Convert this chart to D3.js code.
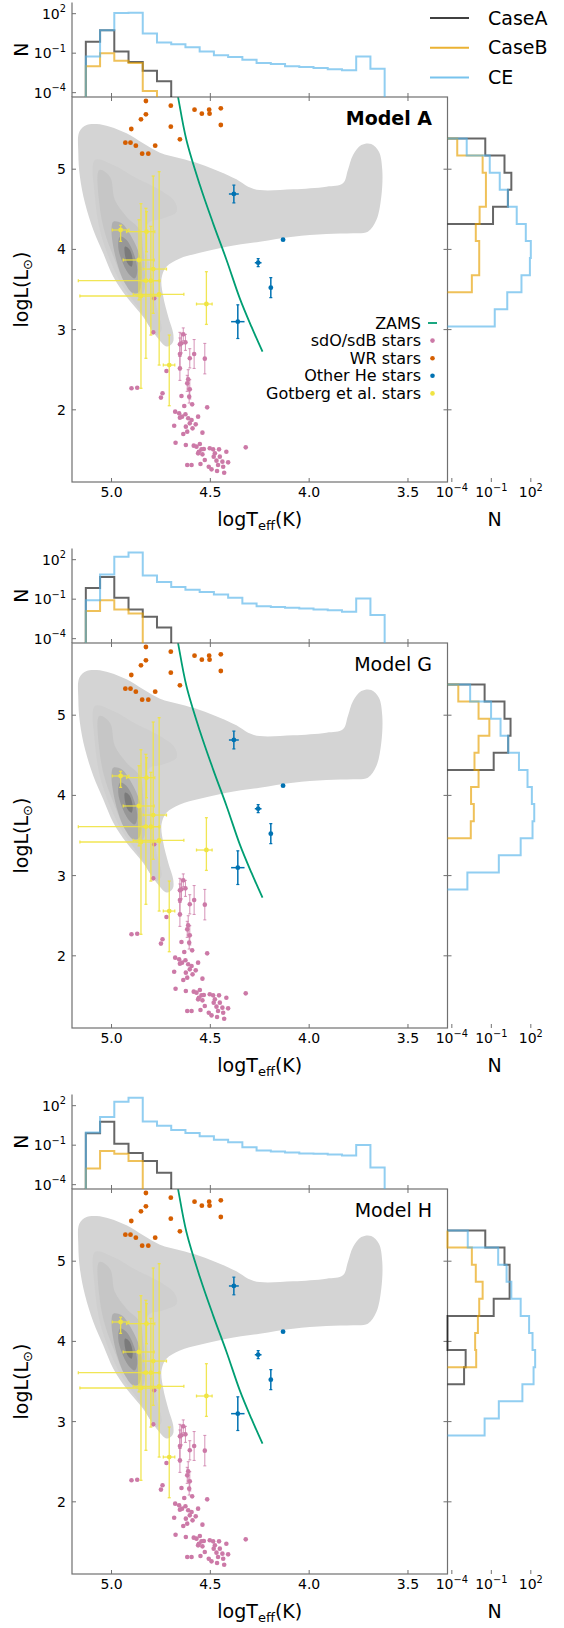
<!DOCTYPE html>
<html>
<head>
<meta charset="utf-8">
<script src="https://cdn.jsdelivr.net/npm/d3@7"></script>
<style>
  body { margin: 0; background: #fff; }
  text { font-family: 'DejaVu Sans', sans-serif; fill: #000; }
</style>
</head>
<body>
<script>
// ---------- data ----------
const modelNames = ['Model A', 'Model G', 'Model H'];
const caseNames = ['CaseA', 'CaseB', 'CE'];

// logTeff bin edges of the top histograms
const tEdges = [5.13, 5.058, 4.986, 4.914, 4.842, 4.77, 4.698, 4.626, 4.554, 4.482, 4.41,
  4.338, 4.266, 4.194, 4.122, 4.05, 3.978, 3.906, 3.834, 3.762, 3.69, 3.618];
// logL bin edges of the right histograms
const lEdges = [5.383, 5.17, 4.957, 4.744, 4.531, 4.318, 4.105, 3.892, 3.679, 3.466, 3.253, 3.04, 2.827];

// log10(N) per bin, null = empty
const topCaseA = [
  [-0.13, 0.75, -0.88, -1.68, -2.33, -3.13],
  [-0.15, 0.68, -0.9, -1.78, -2.33, -3.15],
  [-0.1, 0.78, -0.9, -1.6, -2.2, -3.1]
];
const topCaseB = [
  [-2.0, -1.0, -1.58, -1.75, -3.88],
  [-1.9, -1.08, -1.78, -2.08],
  [-2.78, -1.45, -1.65, -2.2]
];
const topCE = [
  [-1.25, 0.75, 2.05, 2.08, 0.5, -0.18, -0.33, -0.55, -0.88, -1.15, -1.3, -1.5, -1.75, -1.83, -2.0, -2.05, -2.13, -2.23, -2.3, -1.25, -2.18],
  [-1.08, 0.88, 2.23, 2.55, 0.8, 0.3, -0.08, -0.28, -0.45, -0.65, -0.9, -1.33, -1.53, -1.6, -1.65, -1.7, -1.78, -1.85, -1.95, -0.95, -2.2],
  [-0.03, 1.15, 2.3, 2.6, 0.8, 0.48, 0.15, -0.08, -0.33, -0.58, -0.78, -1.15, -1.4, -1.48, -1.55, -1.63, -1.65, -1.7, -1.78, -0.98, -2.7]
];
const rightCaseA = [
  [-1.46, 0.0, 0.52, 0.26, -0.87],
  [-1.51, 0.0, 0.46, 0.28, -0.82],
  [-1.46, 0.0, 0.39, 0.39, -0.82, null, null, -2.95, -3.07]
];
const rightCaseB = [
  [-3.59, -1.66, -1.41, -1.41, -1.89, -2.18, -1.92, -1.92, -2.48],
  [-3.51, -1.97, -1.15, -1.97, -2.28, -1.97, -2.54, -2.33, -2.56],
  [null, -2.48, -2.18, -1.66, -1.92, -2.02, -2.23, -2.15]
];
const rightCE = [
  [-2.87, -1.12, -0.36, 0.26, 0.93, 1.62, 2.0, 1.93, 1.29, 0.21, -0.74],
  [-2.61, -1.02, -0.3, 0.28, 1.1, 1.75, 2.08, 2.26, 2.13, 1.23, -0.43, -2.82],
  [-2.79, -0.48, 0.16, 0.52, 1.23, 1.87, 2.13, 2.33, 2.21, 1.36, -0.43, -1.51]
];

// population density contours, [logTeff, logL]
const contour1 = [[5.163,5.468],[5.126,5.551],[5.075,5.563],[5.008,5.53],[4.924,5.447],[4.84,5.322],[4.755,5.206],
  [4.654,5.135],[4.553,5.065],[4.452,4.969],[4.368,4.873],[4.309,4.782],[4.25,4.74],[4.082,4.749],[3.913,4.782],
  [3.829,4.824],[3.804,4.99],[3.778,5.177],[3.736,5.301],[3.686,5.314],[3.647,5.218],[3.63,4.99],[3.635,4.657],
  [3.66,4.366],[3.703,4.221],[3.778,4.2],[3.913,4.192],[4.082,4.158],[4.25,4.096],[4.418,4.034],[4.553,3.959],
  [4.654,3.888],[4.722,3.784],[4.747,3.639],[4.738,3.41],[4.713,3.161],[4.688,2.953],[4.69,2.84],[4.72,2.79],
  [4.772,2.912],[4.84,3.161],[4.924,3.41],[4.991,3.66],[5.042,3.951],[5.092,4.242],[5.134,4.574],[5.16,4.907],[5.168,5.198]];
const contour2 = [[5.084,5.114],[4.991,5.052],[4.873,4.886],[4.755,4.74],[4.68,4.595],[4.671,4.47],[4.738,4.387],
  [4.814,4.325],[4.823,4.034],[4.797,3.66],[4.772,3.286],[4.747,2.995],[4.772,2.932],[4.856,3.244],[4.941,3.535],
  [5.008,3.868],[5.059,4.242],[5.084,4.657]];
const contour3 = [[5.062,4.99],[5.008,4.907],[4.983,4.616],[4.924,4.408],[4.856,4.242],[4.84,3.992],[4.831,3.66],
  [4.84,3.452],[4.873,3.41],[4.932,3.577],[4.983,3.868],[5.033,4.2],[5.062,4.574]];
const contour4 = [[4.991,4.346],[4.949,4.325],[4.899,4.158],[4.856,3.909],[4.848,3.66],[4.86,3.473],[4.89,3.452],
  [4.932,3.577],[4.966,3.784],[4.991,4.034],[5.0,4.242]];
const contour5 = [[4.957,4.158],[4.924,4.117],[4.882,3.909],[4.87,3.722],[4.882,3.639],[4.915,3.701],[4.949,3.868],[4.966,4.034]];
const contour6 = [[4.932,4.034],[4.91,4.001],[4.893,3.868],[4.899,3.784],[4.919,3.826],[4.932,3.93]];
const contourFills = ['#d4d4d4', '#cfcfcf', '#c6c6c6', '#afafaf', '#979797', '#7b7b7b'];

const zamsT = [4.671, 4.663, 4.621, 4.553, 4.486, 4.418, 4.351, 4.292, 4.236];
const zamsL = [6.0, 5.896, 5.364, 4.803, 4.325, 3.868, 3.39, 3.036, 2.724];

const sdT = [4.784,4.789,4.899,4.87,4.75,4.742,4.722,4.637,4.646,4.626,4.654,4.654,4.604,4.582,4.528,4.654,4.612,4.604,
  4.617,4.646,4.607,4.592,4.632,4.516,4.678,4.658,4.643,4.626,4.612,4.595,4.654,4.562,4.574,4.604,4.624,4.59,4.617,
  4.637,4.683,4.54,4.676,4.624,4.584,4.553,4.545,4.562,4.54,4.503,4.486,4.456,4.477,4.452,4.419,4.55,4.528,4.469,
  4.439,4.41,4.435,4.494,4.508,4.466,4.43,4.617,4.595,4.321,4.533,4.57,4.558,4.483,4.461];
const sdL = [3.39,2.966,2.268,2.276,2.152,2.206,2.484,2.941,2.829,2.841,2.816,2.696,2.642,2.696,2.638,2.517,2.38,2.255,
  2.33,2.172,2.164,2.068,2.048,2.031,1.977,1.956,1.915,1.944,1.894,1.873,1.902,1.915,1.819,1.831,1.79,1.769,1.728,
  1.698,1.802,1.715,1.59,1.561,1.553,1.574,1.507,1.457,1.445,1.52,1.507,1.507,1.457,1.416,1.478,1.324,1.374,1.366,
  1.354,1.345,1.291,1.258,1.291,1.237,1.216,1.312,1.312,1.532,1.511,1.541,1.478,1.416,1.312];
const sdLerr = [0,0,0,0,0,0,0,0.08,0.12,0.1,0.15,0.2,0.12,0.18,0.19,0.15,0.12,0.12,0.1,0,0.08];

const wrT = [4.826,4.7,4.826,4.851,4.9,4.93,4.904,4.877,4.845,4.814,4.779,4.7,4.654,4.58,4.543,4.506,4.504,4.447,4.447];
const wrL = [5.85,5.792,5.684,5.622,5.501,5.331,5.331,5.293,5.193,5.193,5.293,5.53,5.372,5.742,5.692,5.742,5.692,5.759,5.551];

const heT = [4.381, 4.132, 4.258, 4.194, 4.361];
const heL = [4.691, 4.121, 3.834, 3.523, 3.099];
const heTerr = [0.025, 0, 0.017, 0, 0.034];
const heLerr = [0.11, 0, 0.05, 0.125, 0.21];

const gotT = [4.954, 4.823, 4.861, 4.789, 4.826, 4.801, 4.851, 4.759, 4.52, 4.708];
const gotL = [4.242, 4.221, 3.868, 3.755, 3.61, 3.61, 3.419, 3.44, 3.319, 2.558];
const gotTlo = [4.912, 4.781, 4.784, 4.722, 4.755, 4.76, 4.755, 4.634, 4.491, 4.68];
const gotThi = [4.996, 4.924, 4.941, 4.84, 5.168, 4.84, 5.16, 4.89, 4.57, 4.738];
const gotLlo = [4.1, 3.97, 3.37, 3.203, 2.642, 2.932, 2.268, 2.558, 3.065, 2.051];
const gotLhi = [4.3, 4.47, 4.37, 4.915, 4.512, 4.287, 4.57, 4.969, 3.722, 2.932];

const xTicks = [5.0, 4.5, 4.0, 3.5];
const yTicks = [2, 3, 4, 5];
const nTicks = [-4, -1, 2];
const legendLabels = ['ZAMS', 'sdO/sdB stars', 'WR stars', 'Other He stars', 'Gotberg et al. stars'];

// ---------- layout ----------
const width = 564, height = 1628, panelStep = 546;
const M = { left: 72, right: 447.5, top: 97, bottom: 482 };
const histFar = 94.5;
const spineColor = '#707070';
const caseColors = ['#000000', '#E69F00', '#56B4E9'];
const caseOpacity = [0.6, 0.65, 0.65];
const colZams = '#009E73', colSd = '#CC79A7', colWR = '#D55E00', colHe = '#0072B2', colGot = '#F0E442';

const xScale = d3.scaleLinear().domain([5.2, 3.3]).range([M.left, M.right]);
const yScale = d3.scaleLinear().domain([1.1, 5.9]).range([M.bottom, M.top]);
const nTopScale = d3.scaleLog().domain([10 ** -4.33, 10 ** 2.85]).range([M.top, M.top - histFar]);
const nRightScale = d3.scaleLog().domain([10 ** -4.33, 10 ** 2.85]).range([M.right, M.right + histFar]);

const svg = d3.select('body').append('svg').attr('width', width).attr('height', height)
  .style('background', '#fff');

function sup(sel, base, exp, size) {
  sel.text(base);
  sel.append('tspan').attr('dy', -size * 0.45).attr('font-size', size * 0.7).text(exp);
}

function topPath(vals) {
  const base = M.top;
  const pts = [[xScale(tEdges[0]), base]];
  vals.forEach((v, i) => {
    const yy = v == null ? base : nTopScale(10 ** v);
    pts.push([xScale(tEdges[i]), yy], [xScale(tEdges[i + 1]), yy]);
  });
  pts.push([xScale(tEdges[vals.length]), base]);
  return d3.line()(pts);
}

function rightPath(vals) {
  const base = M.right;
  const pts = [[base, yScale(lEdges[0])]];
  vals.forEach((v, i) => {
    const xx = v == null ? base : nRightScale(10 ** v);
    pts.push([xx, yScale(lEdges[i])], [xx, yScale(lEdges[i + 1])]);
  });
  pts.push([base, yScale(lEdges[vals.length])]);
  return d3.line()(pts);
}

function drawPanel(p) {
  const g = svg.append('g').attr('transform', `translate(0, ${p * panelStep})`);
  const clipId = 'clip' + p;
  g.append('clipPath').attr('id', clipId).append('rect')
    .attr('x', M.left).attr('y', M.top).attr('width', M.right - M.left).attr('height', M.bottom - M.top);

  const plot = g.append('g').attr('clip-path', `url(#${clipId})`);

  // contours
  const area = d3.line().x(d => xScale(d[0])).y(d => yScale(d[1])).curve(d3.curveCatmullRomClosed.alpha(0.5));
  [contour1, contour2, contour3, contour4, contour5, contour6].forEach((c, i) => {
    plot.append('path').attr('d', area(c)).attr('fill', contourFills[i]).attr('stroke', 'none');
  });

  // ZAMS
  plot.append('path')
    .attr('d', d3.line().x(i => xScale(zamsT[i])).y(i => yScale(zamsL[i])).curve(d3.curveCatmullRom)(d3.range(zamsT.length)))
    .attr('fill', 'none').attr('stroke', colZams).attr('stroke-width', 1.8);

  // sdO/sdB error bars + points
  sdT.forEach((t, i) => {
    const e = sdLerr[i] || 0;
    if (e > 0) {
      const xx = xScale(t);
      plot.append('line').attr('x1', xx).attr('x2', xx).attr('y1', yScale(sdL[i] - e)).attr('y2', yScale(sdL[i] + e))
        .attr('stroke', colSd).attr('stroke-width', 1).attr('opacity', 0.8);
      [sdL[i] - e, sdL[i] + e].forEach(v => plot.append('line').attr('x1', xx - 1.5).attr('x2', xx + 1.5)
        .attr('y1', yScale(v)).attr('y2', yScale(v)).attr('stroke', colSd).attr('stroke-width', 1).attr('opacity', 0.8));
    }
  });
  plot.selectAll('circle.sd').data(sdT).enter().append('circle').attr('class', 'sd')
    .attr('cx', d => xScale(d)).attr('cy', (d, i) => yScale(sdL[i])).attr('r', 2.3).attr('fill', colSd);

  // WR
  plot.selectAll('circle.wr').data(wrT).enter().append('circle').attr('class', 'wr')
    .attr('cx', d => xScale(d)).attr('cy', (d, i) => yScale(wrL[i])).attr('r', 2.4).attr('fill', colWR);

  // other He stars
  heT.forEach((t, i) => {
    const xx = xScale(t), yy = yScale(heL[i]);
    if (heTerr[i] > 0) {
      plot.append('line').attr('x1', xScale(t + heTerr[i])).attr('x2', xScale(t - heTerr[i])).attr('y1', yy).attr('y2', yy)
        .attr('stroke', colHe).attr('stroke-width', 1.5);
    }
    if (heLerr[i] > 0) {
      plot.append('line').attr('x1', xx).attr('x2', xx).attr('y1', yScale(heL[i] - heLerr[i])).attr('y2', yScale(heL[i] + heLerr[i]))
        .attr('stroke', colHe).attr('stroke-width', 1.5);
      [heL[i] - heLerr[i], heL[i] + heLerr[i]].forEach(v => plot.append('line').attr('x1', xx - 1.5).attr('x2', xx + 1.5)
        .attr('y1', yScale(v)).attr('y2', yScale(v)).attr('stroke', colHe).attr('stroke-width', 1.2));
    }
    plot.append('circle').attr('cx', xx).attr('cy', yy).attr('r', 2.4).attr('fill', colHe);
  });

  // Gotberg et al.
  gotT.forEach((t, i) => {
    const xx = xScale(t), yy = yScale(gotL[i]);
    const st = s => s.attr('stroke', colGot).attr('stroke-width', 1.3).attr('opacity', 0.9);
    st(plot.append('line').attr('x1', xScale(gotThi[i])).attr('x2', xScale(gotTlo[i])).attr('y1', yy).attr('y2', yy));
    st(plot.append('line').attr('x1', xx).attr('x2', xx).attr('y1', yScale(gotLlo[i])).attr('y2', yScale(gotLhi[i])));
    [gotThi[i], gotTlo[i]].forEach(v => st(plot.append('line').attr('x1', xScale(v)).attr('x2', xScale(v)).attr('y1', yy - 1.5).attr('y2', yy + 1.5)));
    [gotLlo[i], gotLhi[i]].forEach(v => st(plot.append('line').attr('x1', xx - 1.5).attr('x2', xx + 1.5).attr('y1', yScale(v)).attr('y2', yScale(v))));
  });
  plot.selectAll('circle.got').data(gotT).enter().append('circle').attr('class', 'got')
    .attr('cx', d => xScale(d)).attr('cy', (d, i) => yScale(gotL[i])).attr('r', 2.4).attr('fill', colGot);

  // main spines
  g.append('rect').attr('x', M.left).attr('y', M.top).attr('width', M.right - M.left).attr('height', M.bottom - M.top)
    .attr('fill', 'none').attr('stroke', spineColor).attr('stroke-width', 1.2);

  // main ticks (inward, all sides)
  xTicks.forEach(t => {
    const xx = xScale(t);
    g.append('line').attr('x1', xx).attr('x2', xx).attr('y1', M.bottom).attr('y2', M.bottom - 4).attr('stroke', spineColor);
    g.append('line').attr('x1', xx).attr('x2', xx).attr('y1', M.top).attr('y2', M.top + 4).attr('stroke', spineColor);
    g.append('line').attr('x1', xx).attr('x2', xx).attr('y1', M.top).attr('y2', M.top - 4).attr('stroke', spineColor);
    g.append('text').attr('x', xx).attr('y', M.bottom + 15).attr('text-anchor', 'middle').attr('font-size', 14).text(t.toFixed(1));
  });
  yTicks.forEach(t => {
    const yy = yScale(t);
    g.append('line').attr('x1', M.left).attr('x2', M.left + 4).attr('y1', yy).attr('y2', yy).attr('stroke', spineColor);
    g.append('line').attr('x1', M.right).attr('x2', M.right - 4).attr('y1', yy).attr('y2', yy).attr('stroke', spineColor);
    g.append('line').attr('x1', M.right).attr('x2', M.right + 4).attr('y1', yy).attr('y2', yy).attr('stroke', spineColor);
    g.append('text').attr('x', M.left - 6).attr('y', yy).attr('dy', '0.35em').attr('text-anchor', 'end').attr('font-size', 14).text(t);
  });

  // top histogram
  const tg = g.append('g');
  [topCaseA[p], topCaseB[p], topCE[p]].forEach((vals, k) => {
    tg.append('path').attr('d', topPath(vals)).attr('fill', 'none').attr('stroke', caseColors[k])
      .attr('stroke-opacity', caseOpacity[k]).attr('stroke-width', 2);
  });
  tg.append('line').attr('x1', M.left).attr('x2', M.left).attr('y1', M.top).attr('y2', M.top - histFar)
    .attr('stroke', spineColor).attr('stroke-width', 1.2);
  nTicks.forEach(e => {
    const yy = nTopScale(10 ** e);
    tg.append('line').attr('x1', M.left).attr('x2', M.left + 4).attr('y1', yy).attr('y2', yy).attr('stroke', spineColor);
    tg.append('text').attr('x', M.left - 6).attr('y', yy + 5).attr('text-anchor', 'end').attr('font-size', 14)
      .call(s => sup(s, '10', e < 0 ? '\u2212' + Math.abs(e) : String(e), 14));
  });

  // right histogram
  const rg = g.append('g');
  [rightCaseA[p], rightCaseB[p], rightCE[p]].forEach((vals, k) => {
    rg.append('path').attr('d', rightPath(vals)).attr('fill', 'none').attr('stroke', caseColors[k])
      .attr('stroke-opacity', caseOpacity[k]).attr('stroke-width', 2);
  });
  nTicks.forEach(e => {
    const xx = nRightScale(10 ** e);
    rg.append('line').attr('x1', xx).attr('x2', xx).attr('y1', M.bottom).attr('y2', M.bottom - 4).attr('stroke', spineColor);
    rg.append('text').attr('x', xx).attr('y', M.bottom + 15).attr('text-anchor', 'middle').attr('font-size', 14)
      .call(s => sup(s, '10', e < 0 ? '\u2212' + Math.abs(e) : String(e), 14));
  });

  // axis labels
  g.append('text').attr('transform', `translate(28, ${(M.top + M.bottom) / 2}) rotate(-90)`).attr('text-anchor', 'middle')
    .attr('font-size', 19)
    .call(s => { s.text('logL(L'); s.append('tspan').attr('dy', 4).attr('font-size', 13).text('\u2299'); s.append('tspan').attr('dy', -4).text(')'); });
  g.append('text').attr('transform', `translate(28, ${M.top - histFar / 2}) rotate(-90)`).attr('text-anchor', 'middle')
    .attr('font-size', 19).text('N');
  g.append('text').attr('x', (M.left + M.right) / 2).attr('y', M.bottom + 44).attr('text-anchor', 'middle').attr('font-size', 19)
    .call(s => { s.text('logT'); s.append('tspan').attr('dy', 4).attr('font-size', 13).text('eff'); s.append('tspan').attr('dy', -4).text('(K)'); });
  g.append('text').attr('x', M.right + 47).attr('y', M.bottom + 44).attr('text-anchor', 'middle').attr('font-size', 19).text('N');

  // title
  g.append('text').attr('x', 432).attr('y', M.top + 28).attr('text-anchor', 'end').attr('font-size', 19)
    .attr('font-weight', p === 0 ? 'bold' : 'normal').text(modelNames[p]);

  if (p === 0) {
    // scatter legend
    const lg = g.append('g');
    const cols = [colZams, colSd, colWR, colHe, colGot];
    legendLabels.forEach((lab, i) => {
      const yy = 323 + i * 17.6;
      lg.append('text').attr('x', 421).attr('y', yy).attr('dy', '0.35em').attr('text-anchor', 'end').attr('font-size', 16).text(lab);
      if (i === 0) lg.append('line').attr('x1', 428).attr('x2', 437).attr('y1', yy).attr('y2', yy).attr('stroke', cols[i]).attr('stroke-width', 1.8);
      else lg.append('circle').attr('cx', 432.5).attr('cy', yy).attr('r', 2.3).attr('fill', cols[i]);
    });
    // case legend
    const cg = g.append('g');
    caseNames.forEach((lab, k) => {
      const yy = 18 + k * 29.7;
      cg.append('line').attr('x1', 430).attr('x2', 469).attr('y1', yy).attr('y2', yy).attr('stroke', caseColors[k])
        .attr('stroke-opacity', caseOpacity[k] + 0.15).attr('stroke-width', 2);
      cg.append('text').attr('x', 488).attr('y', yy).attr('dy', '0.35em').attr('font-size', 19).text(lab);
    });
  }
}

modelNames.forEach((_, p) => drawPanel(p));
</script>
</body>
</html>
